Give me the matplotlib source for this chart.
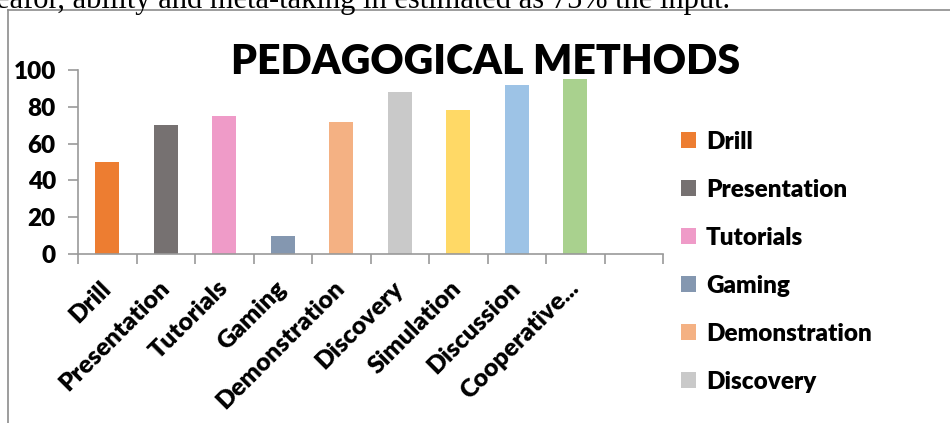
import matplotlib
matplotlib.use("Agg")
import matplotlib.pyplot as plt
from matplotlib.lines import Line2D

# Values
methods = ["Drill", "Presentation", "Tutorials", "Gaming", "Demonstration",
           "Discovery", "Simulation", "Discussion", "Cooperative..."]
scores = [50, 70, 75, 10, 72, 88, 78, 92, 95]
colors = ["#ED7D31", "#767171", "#EF9BC8", "#8497B0", "#F4B183",
          "#C9C9C9", "#FFD966", "#9DC3E6", "#A9D18E"]
yticks = [0, 20, 40, 60, 80, 100]

plt.rcParams['font.family'] = ['Lato', 'DejaVu Sans']

fig = plt.figure(figsize=(9.5, 4.23), dpi=100)
ax = fig.add_axes([78 / 950, 1 - 254 / 423, (663 - 78) / 950, (254 - 70) / 423])

bars = []
for i, (m, v, c) in enumerate(zip(methods, scores, colors)):
	bars.append(ax.bar(i, v, width=0.41, color=c, label=m))

ax.set_xlim(-0.5, len(methods) + 0.5)
ax.set_ylim(0, 100)
ax.set_yticks(yticks)
ax.set_yticklabels([str(t) for t in yticks], fontsize=17.5, fontweight='heavy')
ax.set_xticks(range(len(methods)))
ax.set_xticklabels(methods, fontsize=18, fontweight='heavy', rotation=45,
                   ha='right', va='center', rotation_mode='anchor')
ax.set_xticks([i - 0.5 for i in range(len(methods) + 2)], minor=True)
ax.tick_params(axis='x', which='major', length=0, pad=22)
ax.tick_params(axis='x', which='minor', length=7, color='#999999', width=1.2)
ax.tick_params(axis='y', length=7, color='#999999', width=1.2, pad=9)
for s in ['top', 'right']:
	ax.spines[s].set_visible(False)
for s in ['left', 'bottom']:
	ax.spines[s].set_color('#999999')
	ax.spines[s].set_linewidth(1.2)

fig.text(486 / 950, 1 - 74 / 423, "PEDAGOGICAL METHODS", ha='center', va='baseline',
         fontsize=29.5, fontweight='heavy')

# the legend is cut off after six entries in the original
fig.legend(handles=[b[0] for b in bars[:6]], labels=methods[:6],
           loc='upper left', bbox_to_anchor=(671 / 950, 1 - 121 / 423),
           frameon=False, prop={'size': 17.5, 'weight': 'heavy'},
           handlelength=0.64, handleheight=0.64, handletextpad=0.4,
           labelspacing=1.07, borderaxespad=0)

# surrounding document context
fig.text(-0.004, 1 - 8 / 423, "eafor, ability and meta-taking in estimated as 75% the input.",
         family='Liberation Serif', fontsize=22, va='baseline', ha='left')
fig.add_artist(Line2D([8 / 950, 1.0], [1 - 10 / 423, 1 - 10 / 423], color='#8c8c8c', lw=1.2))
fig.add_artist(Line2D([8 / 950, 8 / 950], [1 - 10 / 423, 0.0], color='#8c8c8c', lw=1.2))

fig.savefig("out.png", dpi=100)
